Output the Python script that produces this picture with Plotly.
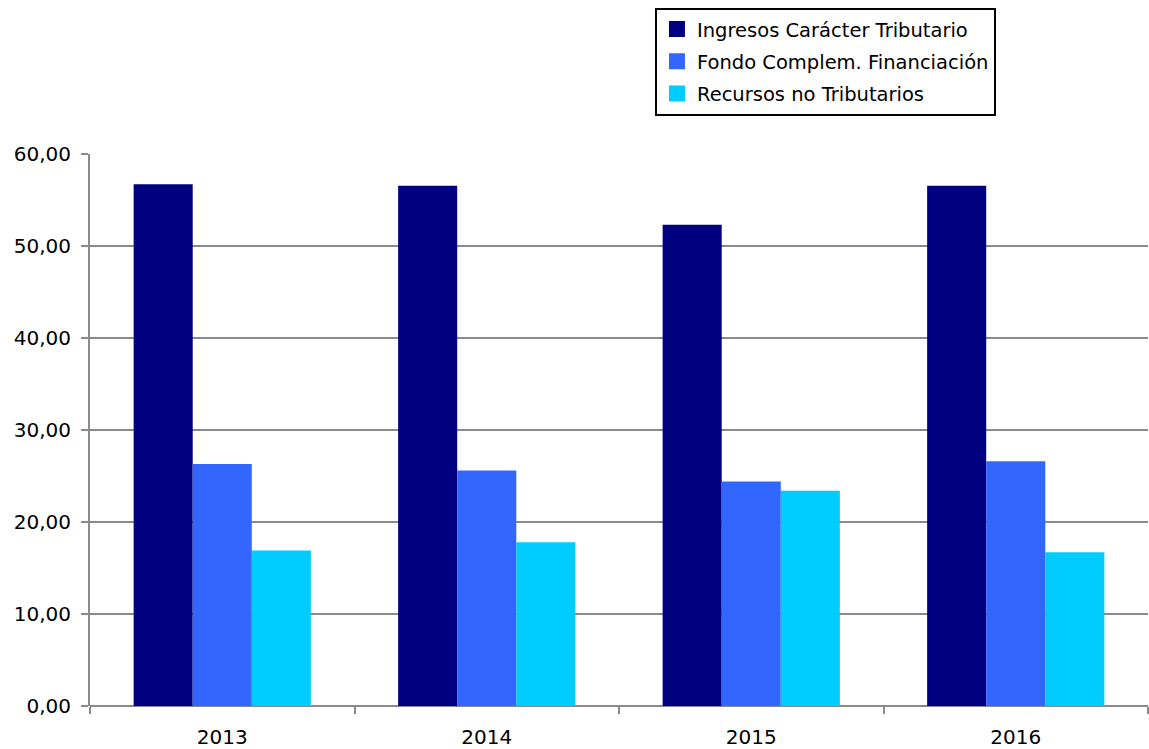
import plotly.graph_objects as go

years = ["2013", "2014", "2015", "2016"]
ingresos = [56.7, 56.55, 52.3, 56.55]
fondo = [26.3, 25.6, 24.4, 26.6]
recursos = [16.9, 17.8, 23.4, 16.7]
series_names = ["Ingresos Carácter Tributario", "Fondo Complem. Financiación", "Recursos no Tributarios"]
colors = ["#000080", "#3366FF", "#00CCFF"]
y_ticks = [0, 10, 20, 30, 40, 50, 60]
y_tick_labels = ["0,00", "10,00", "20,00", "30,00", "40,00", "50,00", "60,00"]

fig = go.Figure()
for name, vals, col in zip(series_names, [ingresos, fondo, recursos], colors):
    fig.add_trace(go.Bar(x=years, y=vals, name=name, legendgroup=name,
                         showlegend=False,
                         marker=dict(color=col, line=dict(width=0))))
# legend entries with larger square swatches
for name, col in zip(series_names, colors):
    fig.add_trace(go.Scatter(x=[None], y=[None], mode="markers", name=name,
                             legendgroup=name, hoverinfo="skip",
                             marker=dict(symbol="square", size=16, color=col,
                                         line=dict(width=0))))

grid_col = "#8a8a8a"
fig.update_layout(
    width=1149, height=749,
    margin=dict(l=90, r=1, t=154, b=43),
    paper_bgcolor="white", plot_bgcolor="white",
    barmode="group", bargap=0.33, bargroupgap=0,
    font=dict(family="DejaVu Sans", size=20, color="black"),
    showlegend=True,
    legend=dict(x=0.534, y=1.265, xanchor="left", yanchor="top",
                bgcolor="white", bordercolor="black", borderwidth=2,
                font=dict(family="DejaVu Sans", size=19.5, color="black"),
                traceorder="grouped", tracegroupgap=4, itemsizing="trace"),
    xaxis=dict(type="category", showgrid=False, showline=False,
               ticks="outside", tickson="boundaries", ticklen=7, tickwidth=2,
               tickcolor=grid_col, ticklabelstandoff=17,
               tickfont=dict(family="DejaVu Sans", size=20)),
    yaxis=dict(range=[0, 60], tickvals=y_ticks, ticktext=y_tick_labels,
               showgrid=True, gridcolor=grid_col, gridwidth=2,
               showline=True, linecolor=grid_col, linewidth=2,
               ticks="outside", ticklen=7, tickwidth=2, tickcolor=grid_col,
               ticklabelstandoff=6, zeroline=True, zerolinecolor=grid_col,
               zerolinewidth=2,
               tickfont=dict(family="DejaVu Sans", size=20)),
)

fig.write_html("out.html", config={"displayModeBar": False},
               post_script="document.body.style.margin='0';")
